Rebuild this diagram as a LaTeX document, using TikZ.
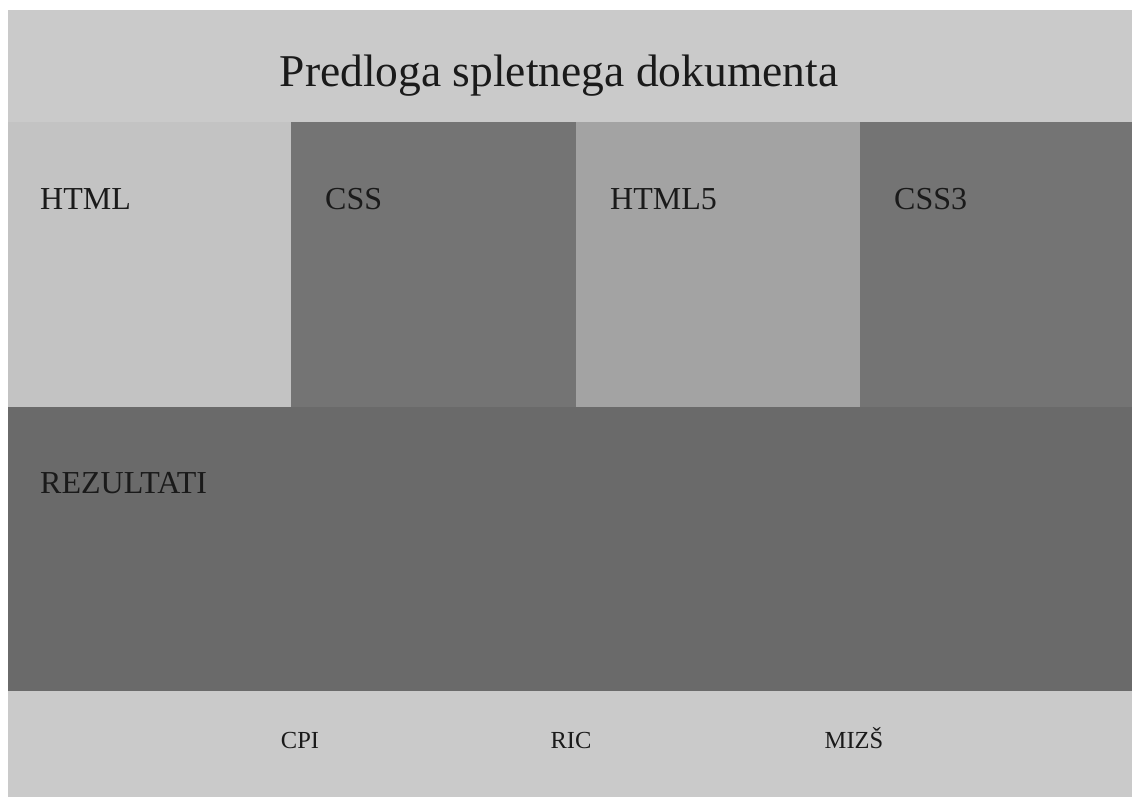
\documentclass[tikz,border=0pt]{standalone}
\usepackage{fontspec}
\setmainfont{Liberation Serif}
\definecolor{hdr}{HTML}{CACACA}
\definecolor{boxA}{HTML}{C3C3C3}
\definecolor{boxB}{HTML}{747474}
\definecolor{boxC}{HTML}{A3A3A3}
\definecolor{res}{HTML}{6A6A6A}
\definecolor{txt}{HTML}{1A1A1A}
\tikzset{
  panel/.style={anchor=north west, inner sep=0pt, outer sep=0pt, draw=none},
  lbl/.style={anchor=base west, inner sep=0pt, text=txt, font=\fontsize{32}{38}\selectfont},
  foot/.style={anchor=base, inner sep=0pt, text=txt, font=\fontsize{24.5}{29}\selectfont},
}
\begin{document}
\begin{tikzpicture}[x=1pt,y=-1pt]
\useasboundingbox[fill=white] (0,0) rectangle (1132,797);
\node[panel, fill=hdr, minimum width=1124pt, minimum height=112pt] (header) at (8,10) {};
\node[panel, fill=boxA, minimum width=283pt, minimum height=285pt] (html) at (8,122) {};
\node[panel, fill=boxB, minimum width=285pt, minimum height=285pt] (css) at (291,122) {};
\node[panel, fill=boxC, minimum width=284pt, minimum height=285pt] (html5) at (576,122) {};
\node[panel, fill=boxB, minimum width=272pt, minimum height=285pt] (css3) at (860,122) {};
\node[panel, fill=res, minimum width=1124pt, minimum height=284pt] (rez) at (8,407) {};
\node[panel, fill=hdr, minimum width=1124pt, minimum height=106pt] (footer) at (8,691) {};
\node[anchor=base, inner sep=0pt, text=txt, font=\fontsize{45.5}{54}\selectfont] (title) at (559,87) {Predloga spletnega dokumenta};
\node[lbl] (thtml) at (40,209) {HTML};
\node[lbl] (tcss) at (325,209) {CSS};
\node[lbl] (thtml5) at (610,209) {HTML5};
\node[lbl] (tcss3) at (894,209) {CSS3};
\node[lbl] (trez) at (40,493) {REZULTATI};
\node[foot] (cpi) at (300,748) {CPI};
\node[foot] (ric) at (571,748) {RIC};
\node[foot] (mizs) at (854,748) {MIZŠ};
\end{tikzpicture}
\end{document}
